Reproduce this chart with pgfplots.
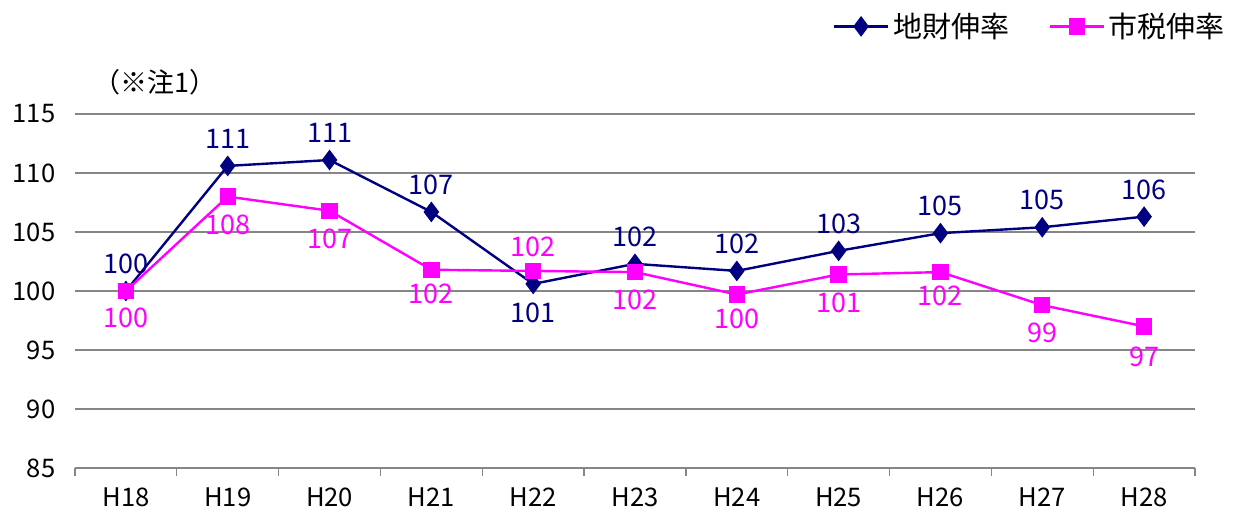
\documentclass[border=0pt]{standalone}
\usepackage{fontspec}
\setmainfont{Noto Sans CJK JP}
\usepackage{pgfplots}
\usepackage{pgfplotstable}
\pgfplotsset{compat=1.18}
\definecolor{navyc}{HTML}{000080}
\definecolor{magc}{HTML}{FF00FF}
\definecolor{gridc}{HTML}{868686}

\pgfplotstableread{
x y lab dy
0 100.0 100 13.5
1 110.6 111 13.5
2 111.1 111 13.5
3 106.7 107 13.5
4 100.6 101 -14.5
5 102.3 102 13.5
6 101.7 102 13.5
7 103.4 103 13.5
8 104.9 105 13.5
9 105.4 105 13.5
10 106.3 106 13.5
}\chizai

\pgfplotstableread{
x y lab dy
0 100.0 100 -13.5
1 108.0 108 -14
2 106.8 107 -14
3 101.8 102 -12
4 101.7 102 12
5 101.6 102 -14
6 99.7 100 -12
7 101.4 101 -14
8 101.6 102 -12
9 98.8 99 -14
10 97.0 97 -15
}\shizei

\begin{document}
\begin{tikzpicture}
\path[use as bounding box] (-37.5pt,-24.5pt) rectangle (584.5pt,234pt);
\begin{axis}[
  at={(0,0)}, anchor=south west,
  scale only axis, width=560pt, height=177pt,
  xmin=-0.5, xmax=10.5, ymin=85, ymax=115,
  ytick={85,90,...,115},
  xtick={0,...,10},
  xticklabels={H18,H19,H20,H21,H22,H23,H24,H25,H26,H27,H28},
  minor xtick={-0.5,0.5,...,10.5},
  major x tick style={draw=none},
  minor x tick style={gridc, line width=0.6pt},
  minor tick length=4pt,
  tick align=outside,
  axis lines*=left,
  y axis line style={draw=none},
  x axis line style={gridc, line width=0.8pt},
  major y tick style={draw=none},
  ymajorgrids, grid style={gridc, line width=0.7pt},
  tick label style={font=\fontsize{12.8}{14}\selectfont},
  /pgf/number format/assume math mode=true,
  yticklabel style={xshift=-2pt},
  xticklabel style={yshift=-2pt},
  legend columns=2,
  legend style={draw=none, fill=none, at={(1.036,1.31)}, anchor=north east,
    font=\fontsize{14.5}{16}\selectfont,
    /tikz/every even column/.append style={column sep=18pt}},
  legend image code/.code={\draw[mark repeat=2,mark phase=2,#1] plot coordinates {(0cm,0cm) (0.47cm,0cm) (0.94cm,0cm)};},
  clip=false,
  nodes near coords,
  point meta=explicit symbolic,
  visualization depends on={\thisrow{dy} \as \dy},
]
\addplot[navyc, line width=1.2pt, mark=diamond*, mark size=4.2pt,
  mark options={solid, fill=navyc},
  every node near coord/.style={anchor=center, yshift=\dy pt, text=navyc, font=\fontsize{13.5}{15}\selectfont}]
  table[x=x, y=y, meta=lab] {\chizai};
\addlegendentry{地財伸率}
\addplot[magc, line width=1.2pt, mark=square*, mark size=3.5pt,
  mark options={solid, fill=magc},
  every node near coord/.style={anchor=center, yshift=\dy pt, text=magc, font=\fontsize{13.5}{15}\selectfont}]
  table[x=x, y=y, meta=lab] {\shizei};
\addlegendentry{市税伸率}
\node[anchor=center, font=\fontsize{13.5}{15}\selectfont] at (axis description cs:0.071,1.09) {（※注1）};
\end{axis}
\end{tikzpicture}
\end{document}
